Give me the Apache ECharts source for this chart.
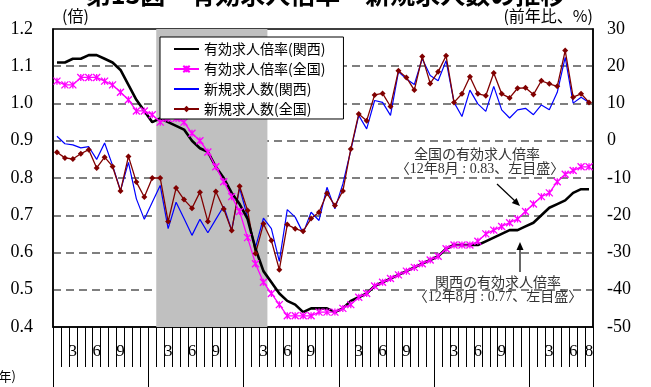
<!DOCTYPE html>
<html>
<head>
<meta charset="utf-8">
<script src="https://cdn.jsdelivr.net/npm/echarts@6/dist/echarts.min.js"></script>
<style>
  html, body { margin: 0; padding: 0; background: #fff; }
  #chart { width: 651px; height: 387px; }
</style>
</head>
<body>
<div id="chart"></div>
<script>
// 月次カテゴリ (平成19年1月〜平成24年8月)
const months = [
  '2007-01', '2007-02', '2007-03', '2007-04', '2007-05', '2007-06', '2007-07', '2007-08', '2007-09', '2007-10', '2007-11', '2007-12',
  '2008-01', '2008-02', '2008-03', '2008-04', '2008-05', '2008-06', '2008-07', '2008-08', '2008-09', '2008-10', '2008-11', '2008-12',
  '2009-01', '2009-02', '2009-03', '2009-04', '2009-05', '2009-06', '2009-07', '2009-08', '2009-09', '2009-10', '2009-11', '2009-12',
  '2010-01', '2010-02', '2010-03', '2010-04', '2010-05', '2010-06', '2010-07', '2010-08', '2010-09', '2010-10', '2010-11', '2010-12',
  '2011-01', '2011-02', '2011-03', '2011-04', '2011-05', '2011-06', '2011-07', '2011-08', '2011-09', '2011-10', '2011-11', '2011-12',
  '2012-01', '2012-02', '2012-03', '2012-04', '2012-05', '2012-06', '2012-07', '2012-08'
]

// 有効求人倍率(関西) 左目盛
const kansaiRatio = [
  1.11, 1.11, 1.12, 1.12, 1.13, 1.13, 1.12, 1.11, 1.09, 1.05, 1.01, 0.98,
  0.95, 0.96, 0.95, 0.94, 0.93, 0.90, 0.88, 0.87, 0.83, 0.80, 0.76, 0.73,
  0.69, 0.61, 0.55, 0.52, 0.49, 0.47, 0.46, 0.44, 0.45, 0.45, 0.45, 0.44,
  0.45, 0.47, 0.48, 0.49, 0.51, 0.52, 0.53, 0.54, 0.55, 0.56, 0.57, 0.58,
  0.59, 0.61, 0.62, 0.62, 0.62, 0.62, 0.63, 0.64, 0.65, 0.66, 0.66, 0.67,
  0.68, 0.70, 0.72, 0.73, 0.74, 0.76, 0.77, 0.77
]

// 有効求人倍率(全国) 左目盛
const nationalRatio = [
  1.06, 1.05, 1.05, 1.07, 1.07, 1.07, 1.06, 1.05, 1.03, 1.01, 0.98, 0.98,
  0.97, 0.95, 0.96, 0.96, 0.95, 0.92, 0.90, 0.87, 0.83, 0.79, 0.75, 0.71,
  0.64, 0.57, 0.52, 0.49, 0.46, 0.43, 0.43, 0.43, 0.43, 0.44, 0.44, 0.44,
  0.45, 0.46, 0.48, 0.49, 0.51, 0.52, 0.53, 0.54, 0.55, 0.56, 0.57, 0.58,
  0.59, 0.61, 0.62, 0.62, 0.62, 0.63, 0.65, 0.66, 0.67, 0.68, 0.69, 0.71,
  0.73, 0.75, 0.76, 0.79, 0.81, 0.82, 0.83, 0.83
]

// 新規求人数(関西) 前年比% 右目盛
const kansaiNew = [
  1.2, -0.8, -1.1, -1.9, -1.6, -5.0, -0.6, -6.6, -13.4, -5.8, -15.6, -21.1,
  -16.5, -12.0, -23.6, -16.5, -20.9, -25.4, -21.1, -24.7, -21.1, -17.6, -24.1, -12.7,
  -20.5, -28.6, -20.8, -23.6, -32.4, -18.5, -20.5, -24.8, -19.2, -21.4, -12.5, -18.3,
  -11.6, -2.6, 6.8, 3.2, 10.8, 10.3, 6.8, 18.5, 16.6, 15.1, 22.0, 17.5,
  16.1, 21.5, 10.3, 6.5, 13.6, 9.9, 7.9, 14.6, 8.3, 6.1, 8.3, 8.7,
  7.0, 9.6, 8.3, 13.0, 22.4, 10.1, 11.7, 10.3
]

// 新規求人数(全国) 前年比% 右目盛
const nationalNew = [
  -3.1, -4.6, -4.9, -3.5, -2.4, -7.3, -4.4, -6.9, -13.5, -4.2, -11.1, -15.1,
  -10.0, -10.0, -21.7, -12.7, -15.8, -18.1, -13.8, -21.7, -13.6, -18.3, -24.1, -12.2,
  -18.7, -30.3, -22.3, -26.8, -34.6, -22.5, -23.6, -24.3, -20.9, -19.2, -14.1, -17.4,
  -13.5, -2.2, 7.2, 5.4, 12.3, 12.7, 9.2, 18.8, 17.0, 13.6, 22.6, 15.4,
  18.5, 22.8, 10.3, 12.6, 17.2, 12.6, 12.1, 18.2, 12.6, 11.5, 14.1, 14.2,
  12.4, 16.1, 15.3, 14.6, 24.2, 11.7, 12.6, 10.3
]

// 目盛ラベルを出す月
const labelMonths = [3, 6, 9]
// 景気後退期 (シャドー)
const recession = ['2008-02', '2009-03']

const names = ['有効求人倍率(関西)', '有効求人倍率(全国)', '新規求人数(関西)', '新規求人数(全国)']

const serif = "'Liberation Serif', 'Noto Sans CJK JP', serif"
const jp = "'Noto Sans CJK JP', sans-serif"

const chart = echarts.init(document.getElementById('chart'))

chart.setOption({
  animation: false,
  title: {
    text: '第13図　有効求人倍率・新規求人数の推移',
    left: 'center',
    top: -23,
    textStyle: { fontFamily: jp, fontSize: 25, fontWeight: 'bold', color: '#000' }
  },
  grid: {
    left: 53,
    right: 58,
    top: 29,
    bottom: 60,
    show: true,
    borderColor: '#000',
    borderWidth: 1.5,
    backgroundColor: '#fff'
  },
  legend: {
    data: [
      { name: names[0], itemStyle: { opacity: 0 } },
      { name: names[1] },
      { name: names[2], itemStyle: { opacity: 0 } },
      { name: names[3] }
    ],
    orient: 'vertical',
    left: 160,
    top: 37,
    padding: [5, 18, 3, 13],
    itemWidth: 25,
    itemHeight: 8,
    itemGap: 6,
    backgroundColor: '#fff',
    borderColor: '#000',
    borderWidth: 1,
    textStyle: { fontFamily: jp, fontSize: 14, color: '#000' }
  },
  xAxis: [
    {
      // 月ラベル
      type: 'category',
      data: months,
      position: 'bottom',
      boundaryGap: true,
      axisLine: { onZero: false, lineStyle: { color: '#000', width: 1.5 } },
      axisTick: { show: false },
      axisLabel: {
        interval: 0,
        margin: 16,
        fontFamily: serif,
        fontSize: 17,
        color: '#000',
        formatter: (value, index) => {
          const m = Number(value.slice(5))
          return labelMonths.includes(m) || index === months.length - 1 ? String(m) : ''
        }
      },
      splitLine: { show: false }
    },
    {
      // 月の区切り目盛
      type: 'value',
      min: 0,
      max: months.length,
      interval: 1,
      position: 'bottom',
      axisLine: { show: false, onZero: false },
      axisLabel: { show: false },
      axisTick: { show: true, length: 40, lineStyle: { color: '#000', width: 1 } },
      splitLine: { show: false }
    },
    {
      // 年の区切り線
      type: 'value',
      min: 0,
      max: months.length,
      interval: 12,
      position: 'bottom',
      axisLine: { show: false, onZero: false },
      axisLabel: { show: false },
      axisTick: { show: true, length: 64, lineStyle: { color: '#000', width: 1 } },
      splitLine: { show: false }
    }
  ],
  yAxis: [
    {
      type: 'value',
      min: 0.4,
      max: 1.2,
      interval: 0.1,
      axisLine: { show: true, onZero: false, lineStyle: { color: '#000', width: 1.5 } },
      axisTick: { show: false },
      axisLabel: {
        margin: 20,
        fontFamily: serif,
        fontSize: 18,
        color: '#000',
        formatter: (v) => v.toFixed(1)
      },
      splitLine: {
        show: true,
        showMinLine: false,
        showMaxLine: false,
        lineStyle: { color: '#555', width: 1.5, type: [8, 5] }
      }
    },
    {
      type: 'value',
      min: -50,
      max: 30,
      interval: 10,
      axisLine: { show: true, onZero: false, lineStyle: { color: '#000', width: 1.5 } },
      axisTick: { show: false },
      axisLabel: { margin: 14, fontFamily: serif, fontSize: 18, color: '#000' },
      splitLine: { show: false }
    }
  ],
  series: [
    {
      name: 'shade',
      type: 'line',
      xAxisIndex: 1,
      yAxisIndex: 0,
      data: [],
      silent: true,
      markArea: {
        silent: true,
        itemStyle: { color: '#C0C0C0' },
        data: [[
          { xAxis: months.indexOf(recession[0]) },
          { xAxis: months.indexOf(recession[1]) + 1 }
        ]]
      }
    },
    {
      name: names[2],
      type: 'line',
      yAxisIndex: 1,
      data: kansaiNew,
      symbol: 'circle',
      showSymbol: false,
      lineStyle: { color: '#0000FF', width: 1.2 },
      itemStyle: { color: '#0000FF' }
    },
    {
      name: names[3],
      type: 'line',
      yAxisIndex: 1,
      data: nationalNew,
      symbol: 'diamond',
      symbolSize: 6,
      lineStyle: { color: '#800000', width: 1.3 },
      itemStyle: { color: '#800000' }
    },
    {
      name: names[0],
      type: 'line',
      yAxisIndex: 0,
      data: kansaiRatio,
      symbol: 'circle',
      showSymbol: false,
      lineStyle: { color: '#000', width: 2.6 },
      itemStyle: { color: '#000' }
    },
    {
      name: names[1],
      type: 'line',
      yAxisIndex: 0,
      data: nationalRatio,
      symbol: 'path://M0,0L10,10M10,0L0,10M5,0L5,10',
      symbolSize: 7,
      lineStyle: { color: '#FF00FF', width: 1.3 },
      itemStyle: { color: '#FF00FF', borderColor: '#FF00FF', borderWidth: 1.3 }
    }
  ],
  graphic: [
    { type: 'text', left: 62, top: 8, style: { text: '(倍)', font: '16px ' + jp, fill: '#000' } },
    { type: 'text', right: 58, top: 8, style: { text: '(前年比、%)', font: '16px ' + jp, fill: '#000' } },
    { type: 'text', left: -6, top: 370, style: { text: '(年)', font: '13px ' + jp, fill: '#000' } },
    // 全国の注記
    { type: 'text', x: 477, y: 154, style: { text: '全国の有効求人倍率', font: '14px ' + jp, fill: '#333', align: 'center', verticalAlign: 'middle' } },
    { type: 'text', x: 480, y: 169, style: { text: '〈12年8月 : 0.83、左目盛〉', font: '14px ' + serif, fill: '#333', align: 'center', verticalAlign: 'middle' } },
    { type: 'line', shape: { x1: 497, y1: 184, x2: 515, y2: 201 }, style: { stroke: '#000', lineWidth: 1.2 } },
    { type: 'polygon', shape: { points: [[520, 206], [511.8, 203], [516.6, 198]] }, style: { fill: '#000' } },
    // 関西の注記
    { type: 'rect', shape: { x: 424, y: 275, width: 148, height: 30 }, style: { fill: '#fff' } },
    { type: 'text', x: 498, y: 282, style: { text: '関西の有効求人倍率', font: '14px ' + jp, fill: '#333', align: 'center', verticalAlign: 'middle' } },
    { type: 'text', x: 498, y: 297, style: { text: '〈12年8月 : 0.77、左目盛〉', font: '14px ' + serif, fill: '#333', align: 'center', verticalAlign: 'middle' } },
    { type: 'line', shape: { x1: 520, y1: 272, x2: 520, y2: 249 }, style: { stroke: '#000', lineWidth: 1.2 } },
    { type: 'polygon', shape: { points: [[520, 242], [516.5, 250], [523.5, 250]] }, style: { fill: '#000' } }
  ]
})
</script>
</body>
</html>
